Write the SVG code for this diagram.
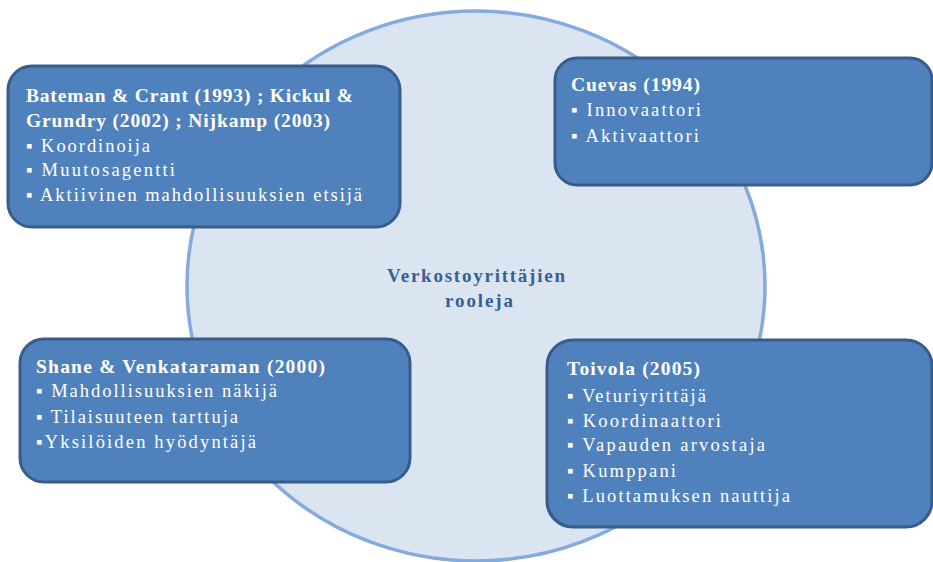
<svg xmlns="http://www.w3.org/2000/svg" width="933" height="562" viewBox="0 0 933 562">
  <style>
    .box { fill: #4f81bd; stroke: #385d8a; stroke-width: 3; }
    .hub { fill: #dbe5f1; stroke: #85aadc; stroke-width: 3.5; }
    .head { font-family: "Liberation Serif", "DejaVu Serif", serif; font-size: 19.5px; font-weight: bold; fill: #ffffff; }
    .item { font-family: "Liberation Serif", "DejaVu Serif", serif; font-size: 18.5px; fill: #ffffff; }
    .title { font-family: "Liberation Serif", "DejaVu Serif", serif; font-size: 19px; font-weight: bold; fill: #376092; }
  </style>

  <rect x="0" y="0" width="933" height="562" fill="#ffffff"/>

  <!-- central circle with its caption -->
  <g id="hub">
    <ellipse class="hub" cx="476" cy="286" rx="289" ry="275"/>
    <text class="title" x="476" y="282" text-anchor="middle" textLength="178" lengthAdjust="spacing">Verkostoyrittäjien</text>
    <text class="title" x="479" y="307" text-anchor="middle" textLength="68" lengthAdjust="spacing">rooleja</text>
  </g>

  <g id="connectors"/>

  <!-- top left -->
  <g id="bateman">
    <rect class="box" x="8" y="66" width="392" height="161" rx="24"/>
    <text class="head" x="26" y="102" textLength="327" lengthAdjust="spacing">Bateman &amp; Crant (1993) ; Kickul &amp;</text>
    <text class="head" x="26" y="127" textLength="304" lengthAdjust="spacing">Grundry (2002) ; Nijkamp (2003)</text>
    <text class="item" x="26" y="152" textLength="124" lengthAdjust="spacing">▪ Koordinoija</text>
    <text class="item" x="26" y="176" textLength="149" lengthAdjust="spacing">▪ Muutosagentti</text>
    <text class="item" x="26" y="201" textLength="336" lengthAdjust="spacing">▪ Aktiivinen mahdollisuuksien etsijä</text>
  </g>

  <!-- top right -->
  <g id="cuevas">
    <rect class="box" x="555" y="58" width="377" height="127" rx="22"/>
    <text class="head" x="571" y="91" textLength="129" lengthAdjust="spacing">Cuevas (1994)</text>
    <text class="item" x="571" y="116" textLength="130" lengthAdjust="spacing">▪ Innovaattori</text>
    <text class="item" x="571" y="142" textLength="128" lengthAdjust="spacing">▪ Aktivaattori</text>
  </g>

  <!-- bottom left -->
  <g id="shane">
    <rect class="box" x="20" y="339" width="390" height="143" rx="24"/>
    <text class="head" x="36" y="373" textLength="289" lengthAdjust="spacing">Shane &amp; Venkataraman (2000)</text>
    <text class="item" x="36" y="397" textLength="241" lengthAdjust="spacing">▪ Mahdollisuuksien näkijä</text>
    <text class="item" x="36" y="423" textLength="202" lengthAdjust="spacing">▪ Tilaisuuteen tarttuja</text>
    <text class="item" x="36" y="448" textLength="220" lengthAdjust="spacing">▪Yksilöiden hyödyntäjä</text>
  </g>

  <!-- bottom right -->
  <g id="toivola">
    <rect class="box" x="547" y="340" width="385" height="187" rx="26"/>
    <text class="head" x="567" y="375" textLength="133" lengthAdjust="spacing">Toivola (2005)</text>
    <text class="item" x="567" y="402" textLength="139" lengthAdjust="spacing">▪ Veturiyrittäjä</text>
    <text class="item" x="567" y="427" textLength="154" lengthAdjust="spacing">▪ Koordinaattori</text>
    <text class="item" x="567" y="451" textLength="198" lengthAdjust="spacing">▪ Vapauden arvostaja</text>
    <text class="item" x="567" y="477" textLength="109" lengthAdjust="spacing">▪ Kumppani</text>
    <text class="item" x="567" y="502" textLength="223" lengthAdjust="spacing">▪ Luottamuksen nauttija</text>
  </g>
</svg>
